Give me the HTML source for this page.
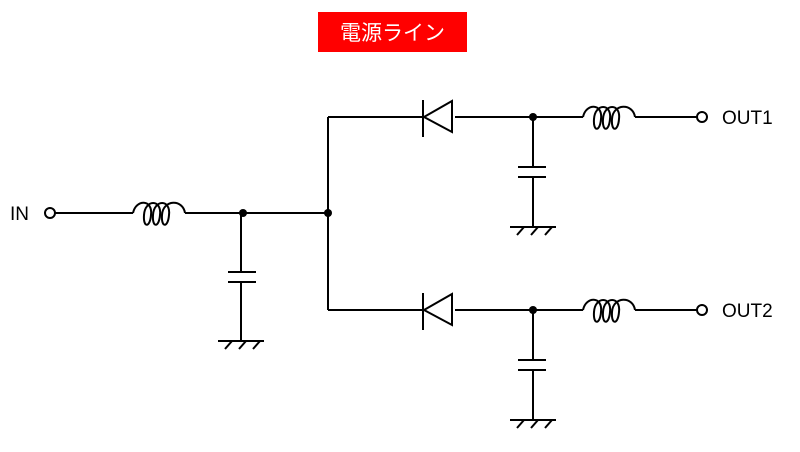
<!DOCTYPE html>
<html><head><meta charset="utf-8"><style>
body{margin:0;background:#fff;width:800px;height:447px;overflow:hidden}
</style></head><body>
<svg width="800" height="447" viewBox="0 0 800 447" xmlns="http://www.w3.org/2000/svg">
<defs>
<g id="coil" fill="none" stroke="#000" stroke-width="2">
<path d="M0,0 C3,-14 20,-14 18,2 C17,15 10,15 11,2 C12,-14 29,-14 27,2 C26,15 19,15 20,2 C21,-14 38,-14 36,2 C35,15 28,15 29,2 C30,-14 50,-14 52,0"/>
</g>
<g id="gnd" stroke="#000" stroke-width="2" fill="none">
<line x1="-23" y1="0" x2="23" y2="0"/>
<line x1="-16" y1="8" x2="-9" y2="0"/>
<line x1="-2" y1="8" x2="5" y2="0"/>
<line x1="12" y1="8" x2="19" y2="0"/>
</g>
</defs>
<rect x="318" y="12" width="149" height="40" fill="#ff0000"/>
<text x="392.5" y="40" text-anchor="middle" fill="#fff" font-family="'Liberation Sans','Noto Sans CJK JP',sans-serif" font-size="21">電源ライン</text>
<g stroke="#000" stroke-width="2" fill="none">
<circle cx="50" cy="213" r="5"/>
<line x1="55" y1="213" x2="133" y2="213"/>
<use href="#coil" x="133" y="213"/>
<line x1="185" y1="213" x2="328" y2="213"/>
<line x1="241" y1="213" x2="241" y2="272"/>
<line x1="228" y1="272" x2="256" y2="272"/>
<line x1="228" y1="282" x2="256" y2="282"/>
<line x1="241" y1="282" x2="241" y2="341"/>
<line x1="328" y1="117" x2="328" y2="310"/>
<line x1="328" y1="117" x2="698" y2="117"/>
<line x1="328" y1="310" x2="698" y2="310"/>
</g>
<use href="#gnd" x="241" y="341"/>
<g id="br">
<g stroke="#000" stroke-width="2" fill="none">
<rect x="425" y="101" width="30" height="32" fill="#fff" stroke="none"/>
<line x1="423" y1="100" x2="423" y2="137"/>
<polygon points="424,117 452,101 452,132" fill="#fff"/>
<line x1="533" y1="117" x2="533" y2="167"/>
<line x1="518" y1="167" x2="546" y2="167"/>
<line x1="518" y1="177" x2="546" y2="177"/>
<line x1="533" y1="177" x2="533" y2="227"/>
<rect x="583" y="105" width="52" height="24" fill="#fff" stroke="none"/>
<use href="#coil" x="583" y="117"/>
<circle cx="702" cy="117" r="5" fill="#fff"/>
</g>
<use href="#gnd" x="533" y="227"/>
<circle cx="533" cy="117" r="4" fill="#000"/>
</g>
<use href="#br" y="193"/>
<circle cx="243" cy="213" r="4" fill="#000"/>
<circle cx="328" cy="213" r="4" fill="#000"/>
<g font-family="'Liberation Sans',sans-serif" font-size="19" fill="#000">
<text x="10" y="220">IN</text>
<text x="722" y="124">OUT1</text>
<text x="722" y="317">OUT2</text>
</g>
</svg>
</body></html>
